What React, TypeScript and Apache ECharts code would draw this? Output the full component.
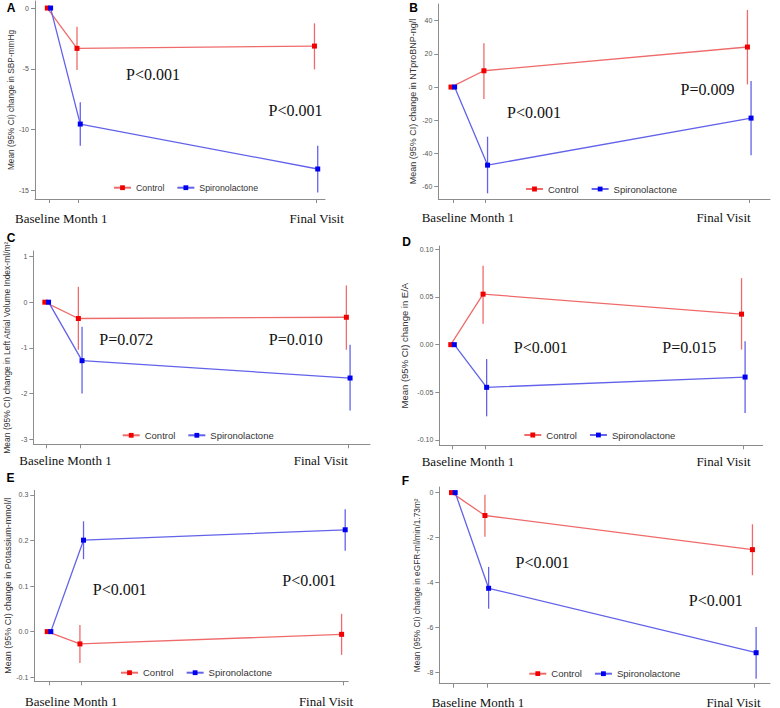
import React, { useEffect, useRef } from 'react';
import * as echarts from 'echarts';

// ---------- shared categories ----------
const timePoints = [0, 1, 9]; // Baseline, Month 1, Final Visit (months)
const xLabels = ['Baseline', 'Month 1', 'Final Visit'];
const seriesNames = ['Control', 'Spironolactone'];

// ---------- Panel A: SBP ----------
const sbpName = 'Mean (95% CI) change in SBP-mmHg';
const sbpTicks = [0, -5, -10, -15];
const sbpControl = [0, -3.32, -3.13];
const sbpControlLow = [0, -5.1, -5.05];
const sbpControlHigh = [0, -1.54, -1.26];
const sbpSpiro = [0, -9.55, -13.25];
const sbpSpiroLow = [0, -11.33, -15.18];
const sbpSpiroHigh = [0, -7.76, -11.33];
const sbpP = ['P<0.001', 'P<0.001'];

// ---------- Panel B: NTproBNP ----------
const bnpName = 'Mean (95% CI) change in NTproBNP-ng/l';
const bnpTicks = [40, 20, 0, -20, -40, -60];
const bnpControl = [0, 9.8, 24.1];
const bnpControlLow = [0, -7.2, 1.6];
const bnpControlHigh = [0, 26.3, 46.4];
const bnpSpiro = [0, -47, -18.7];
const bnpSpiroLow = [0, -64, -41];
const bnpSpiroHigh = [0, -29.9, 3.6];
const bnpP = ['P<0.001', 'P=0.009'];

// ---------- Panel C: LAVI ----------
const laviName = 'Mean (95% CI) change in Left Atrial Volume Index-ml/m\u00B2';
const laviTicks = [1, 0, -1, -2, -3];
const laviControl = [0, -0.357, -0.33];
const laviControlLow = [0, -1.04, -1.04];
const laviControlHigh = [0, 0.335, 0.366];
const laviSpiro = [0, -1.28, -1.66];
const laviSpiroLow = [0, -2.0, -2.37];
const laviSpiroHigh = [0, -0.54, -0.93];
const laviP = ['P=0.072', 'P=0.010'];

// ---------- Panel D: E/A ----------
const eaName = 'Mean (95% CI) change in E/A';
const eaTicks = [0.1, 0.05, 0, -0.05, -0.1];
const eaControl = [0, 0.053, 0.032];
const eaControlLow = [0, 0.022, -0.0052];
const eaControlHigh = [0, 0.0828, 0.0698];
const eaSpiro = [0, -0.0448, -0.034];
const eaSpiroLow = [0, -0.0752, -0.0717];
const eaSpiroHigh = [0, -0.0151, 0.0035];
const eaP = ['P<0.001', 'P=0.015'];

// ---------- Panel E: Potassium ----------
const kName = 'Mean (95% CI) change in Potassium-mmol/l';
const kTicks = [0.3, 0.2, 0.1, 0, -0.1];
const kControl = [0, -0.027, -0.006];
const kControlLow = [0, -0.069, -0.051];
const kControlHigh = [0, 0.0145, 0.039];
const kSpiro = [0, 0.2006, 0.2234];
const kSpiroLow = [0, 0.159, 0.1774];
const kSpiroHigh = [0, 0.242, 0.2685];
const kP = ['P<0.001', 'P<0.001'];

// ---------- Panel F: eGFR ----------
const egfrName = 'Mean (95% CI) change in eGFR-ml/min/1.73m\u00B2';
const egfrTicks = [0, -2, -4, -6, -8];
const egfrControl = [0, -1.02, -2.54];
const egfrControlLow = [0, -1.97, -3.68];
const egfrControlHigh = [0, -0.09, -1.41];
const egfrSpiro = [0, -4.26, -7.13];
const egfrSpiroLow = [0, -5.17, -8.29];
const egfrSpiroHigh = [0, -3.31, -5.98];
const egfrP = ['P<0.001', 'P<0.001'];

// ---------- styling ----------
const DODGE = 0.055;
const RED_LINE = '#ef6b6b';
const RED_MARK = '#f00000';
const BLUE_LINE = '#6262ea';
const BLUE_MARK = '#0000f0';
const SANS = 'Arial, "Liberation Sans", sans-serif';
const SERIF = '"Times New Roman", "Liberation Serif", serif';
const AXIS_COLOR = '#8c8c8c';

type Layout = {
  grid: [number, number, number, number];
  xRange: [number, number];
  yRange: [number, number];
  decimals: number;
  nameGap: number;
  nameSize: number;
  legend: [number, number];
  legendSize: number;
  pPos: [number, number][];
  letterPos: [number, number];
  xLabelPos: [number, number];
  finalCenter: number;
};

const panels = [
  {
    letter: 'A', yName: sbpName, ticks: sbpTicks, pValues: sbpP,
    control: [sbpControl, sbpControlLow, sbpControlHigh],
    spiro: [sbpSpiro, sbpSpiroLow, sbpSpiroHigh],
    layout: {
      grid: [35, 1, 290, 198], xRange: [-0.47, 9.3], yRange: [-15.72, 0.58], decimals: 0,
      nameGap: 17, nameSize: 8.3, legend: [113, 187.7], legendSize: 8.8,
      pPos: [[153, 74], [295.5, 110]], letterPos: [11, 8], xLabelPos: [15, 218], finalCenter: 316.7,
    } as Layout,
  },
  {
    letter: 'B', yName: bnpName, ticks: bnpTicks, pValues: bnpP,
    control: [bnpControl, bnpControlLow, bnpControlHigh],
    spiro: [bnpSpiro, bnpSpiroLow, bnpSpiroHigh],
    layout: {
      grid: [438.3, 4, 331.7, 195], xRange: [-0.44, 9.63], yRange: [-67.4, 50], decimals: 0,
      nameGap: 20.5, nameSize: 9, legend: [525, 189], legendSize: 9.5,
      pPos: [[534, 112], [707.5, 89]], letterPos: [413.5, 8], xLabelPos: [421.7, 217], finalCenter: 723.5,
    } as Layout,
  },
  {
    letter: 'C', yName: laviName, ticks: laviTicks, pValues: laviP,
    control: [laviControl, laviControlLow, laviControlHigh],
    spiro: [laviSpiro, laviSpiroLow, laviSpiroHigh],
    layout: {
      grid: [33.3, 251, 336.7, 193.3], xRange: [-0.4, 9.65], yRange: [-3.11, 1.12], decimals: 0,
      nameGap: 21.8, nameSize: 8.5, legend: [121.7, 435.3], legendSize: 9.5,
      pPos: [[126.3, 339.7], [295.8, 339.7]], letterPos: [11, 238], xLabelPos: [19.3, 460], finalCenter: 320.8,
    } as Layout,
  },
  {
    letter: 'D', yName: eaName, ticks: eaTicks, pValues: eaP,
    control: [eaControl, eaControlLow, eaControlHigh],
    spiro: [eaSpiro, eaSpiroLow, eaSpiroHigh],
    layout: {
      grid: [439.3, 246, 323.4, 199.3], xRange: [-0.41, 9.6], yRange: [-0.1056, 0.1035], decimals: 2,
      nameGap: 29.8, nameSize: 9.5, legend: [523.3, 435], legendSize: 9.5,
      pPos: [[540.8, 347.7], [689.2, 347.7]], letterPos: [406.7, 242], xLabelPos: [421.7, 461], finalCenter: 723.5,
    } as Layout,
  },
  {
    letter: 'E', yName: kName, ticks: kTicks, pValues: kP,
    control: [kControl, kControlLow, kControlHigh],
    spiro: [kSpiro, kSpiroLow, kSpiroHigh],
    layout: {
      grid: [34.3, 490.3, 314, 191], xRange: [-0.45, 9.15], yRange: [-0.109, 0.31], decimals: 1,
      nameGap: 22.3, nameSize: 9, legend: [120, 672.7], legendSize: 9.5,
      pPos: [[119.7, 589.5], [309.3, 580.3]], letterPos: [10.5, 478], xLabelPos: [25, 701.3], finalCenter: 326,
    } as Layout,
  },
  {
    letter: 'F', yName: egfrName, ticks: egfrTicks, pValues: egfrP,
    control: [egfrControl, egfrControlLow, egfrControlHigh],
    spiro: [egfrSpiro, egfrSpiroLow, egfrSpiroHigh],
    layout: {
      grid: [439.3, 487, 330.7, 196.7], xRange: [-0.42, 9.47], yRange: [-8.51, 0.25], decimals: 0,
      nameGap: 18, nameSize: 8.3, legend: [528.3, 673.7], legendSize: 9.5,
      pPos: [[542.5, 562], [715.8, 600.3]], letterPos: [405.5, 481], xLabelPos: [431.7, 702], finalCenter: 733.5,
    } as Layout,
  },
];

function buildOption() {
  const grid: any[] = [];
  const xAxis: any[] = [];
  const yAxis: any[] = [];
  const series: any[] = [];
  const legend: any[] = [];
  const graphic: any[] = [];

  panels.forEach((p, i) => {
    const L = p.layout;
    grid.push({
      left: L.grid[0], top: L.grid[1], width: L.grid[2], height: L.grid[3],
      containLabel: false, outerBoundsMode: 'none',
    });
    xAxis.push({
      type: 'value', gridIndex: i, min: L.xRange[0], max: L.xRange[1],
      axisLine: { show: true, onZero: false, lineStyle: { color: AXIS_COLOR, width: 1 } },
      axisTick: { show: true, length: 4, customValues: timePoints, lineStyle: { color: AXIS_COLOR } },
      axisLabel: { show: false, customValues: timePoints },
      splitLine: { show: false },
    });
    yAxis.push({
      type: 'value', gridIndex: i, min: L.yRange[0], max: L.yRange[1],
      name: p.yName, nameLocation: 'middle', nameGap: L.nameGap,
      nameTextStyle: { fontSize: L.nameSize, color: '#333', fontFamily: SANS },
      axisLine: { show: true, onZero: false, lineStyle: { color: AXIS_COLOR, width: 1 } },
      axisTick: { show: true, length: 4, customValues: p.ticks, lineStyle: { color: AXIS_COLOR } },
      axisLabel: {
        show: true, customValues: p.ticks, fontSize: 7, color: '#555', fontFamily: SANS, margin: 6,
        formatter: (v: number) => (L.decimals ? Number(v).toFixed(L.decimals) : String(Math.round(v))),
      },
      splitLine: { show: false },
    });

    const groups = [
      { name: seriesNames[0], vals: p.control, shift: -DODGE, line: RED_LINE, mark: RED_MARK },
      { name: seriesNames[1], vals: p.spiro, shift: DODGE, line: BLUE_LINE, mark: BLUE_MARK },
    ];
    groups.forEach((g) => {
      const [mean, low, high] = g.vals;
      series.push({
        type: 'custom', name: g.name + ' 95% CI', xAxisIndex: i, yAxisIndex: i, z: 1,
        coordinateSystem: 'cartesian2d', silent: true,
        encode: { x: 0, y: [1, 2] },
        data: timePoints.map((t, k) => [t + g.shift, low[k], high[k]]),
        renderItem: (params: any, api: any) => {
          const a = api.coord([api.value(0), api.value(1)]);
          const b = api.coord([api.value(0), api.value(2)]);
          return {
            type: 'line',
            shape: { x1: a[0], y1: a[1], x2: b[0], y2: b[1] },
            style: { stroke: g.line, lineWidth: 1.3 },
          };
        },
      });
      series.push({
        type: 'line', name: g.name, xAxisIndex: i, yAxisIndex: i, z: 3,
        data: timePoints.map((t, k) => [t + g.shift, mean[k]]),
        symbol: 'rect', symbolSize: 5, showSymbol: true,
        lineStyle: { color: g.line, width: 1.3 },
        itemStyle: { color: g.mark },
        emphasis: { disabled: true },
      });
    });

    legend.push({
      data: seriesNames, left: L.legend[0], top: L.legend[1] - 5, orient: 'horizontal',
      itemWidth: 17, itemHeight: 6, itemGap: 12, padding: 0, selectedMode: false,
      textStyle: { fontSize: L.legendSize, color: '#333', fontFamily: SANS, lineHeight: 10 },
    });

    // panel letter
    graphic.push({
      type: 'text', x: L.letterPos[0], y: L.letterPos[1],
      style: {
        text: p.letter, font: `bold 12px ${SANS}`, fill: '#000',
        align: 'center', verticalAlign: 'middle', textAlign: 'center', textVerticalAlign: 'middle',
      },
    });
    // x category labels
    graphic.push({
      type: 'text', x: L.xLabelPos[0], y: L.xLabelPos[1],
      style: {
        text: `${xLabels[0]} ${xLabels[1]}`, font: `13px ${SERIF}`, fill: '#111',
        align: 'left', verticalAlign: 'middle', textAlign: 'left', textVerticalAlign: 'middle',
      },
    });
    graphic.push({
      type: 'text', x: L.finalCenter, y: L.xLabelPos[1],
      style: {
        text: xLabels[2], font: `13px ${SERIF}`, fill: '#111',
        align: 'center', verticalAlign: 'middle', textAlign: 'center', textVerticalAlign: 'middle',
      },
    });
    // p-values
    p.pValues.forEach((txt, k) => {
      graphic.push({
        type: 'text', x: L.pPos[k][0], y: L.pPos[k][1],
        style: {
          text: txt, font: `16px ${SERIF}`, fill: '#111',
          align: 'center', verticalAlign: 'middle', textAlign: 'center', textVerticalAlign: 'middle',
        },
      });
    });
  });

  return {
    animation: false,
    backgroundColor: '#ffffff',
    grid, xAxis, yAxis, series, legend, graphic,
  };
}

export default function App() {
  const ref = useRef<HTMLDivElement>(null);
  useEffect(() => {
    if (!ref.current) return;
    const chart = echarts.init(ref.current, null, { renderer: 'svg' });
    chart.setOption(buildOption() as any);
    return () => chart.dispose();
  }, []);
  return (
    <div
      ref={ref}
      style={{ position: 'fixed', left: 0, top: 0, width: 780, height: 708, background: '#fff' }}
    />
  );
}
